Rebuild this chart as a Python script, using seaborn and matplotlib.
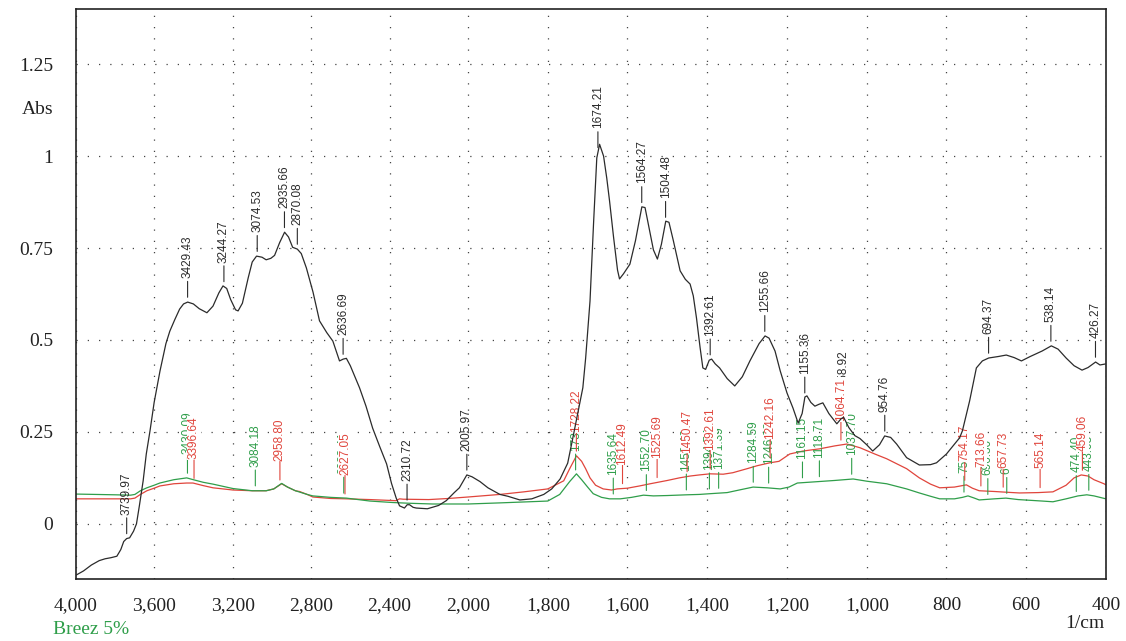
import numpy as np
import pandas as pd
import seaborn as sns
import matplotlib.pyplot as plt

# ---- spectra (wavenumber 1/cm, absorbance) ----
black_wn = [4000, 3960, 3920, 3880, 3850, 3820, 3790, 3770, 3755, 3740, 3725, 3705,
            3690, 3675, 3656, 3640, 3621, 3600, 3570, 3540, 3520, 3495, 3470, 3450,
            3429, 3400, 3370, 3331, 3300, 3270, 3249, 3230, 3210, 3185, 3172, 3150,
            3120, 3100, 3078, 3050, 3029, 3005, 2986, 2960, 2935, 2915, 2894, 2870,
            2850, 2824, 2790, 2757, 2720, 2689, 2655, 2636, 2620, 2600, 2553, 2520,
            2486, 2450, 2415, 2390, 2366, 2349, 2324, 2310, 2298, 2280, 2264, 2207,
            2150, 2111, 2070, 2044, 2020, 2006, 1990, 1970, 1950, 1920, 1900, 1870,
            1840, 1810, 1790, 1769, 1750, 1737, 1725, 1712, 1705, 1694, 1685, 1677,
            1670, 1660, 1652, 1645, 1635, 1625, 1620, 1610, 1594, 1580, 1564, 1556,
            1545, 1535, 1525, 1515, 1504, 1496, 1485, 1468, 1455, 1443, 1435, 1427,
            1418, 1411, 1404, 1395, 1389, 1380, 1369, 1350, 1331, 1312, 1293, 1270,
            1255, 1245, 1230, 1217, 1200, 1185, 1172, 1162, 1155, 1150, 1140, 1130,
            1120, 1110, 1095, 1075, 1065, 1058, 1045, 1030, 1017, 1000, 985, 968,
            955, 940, 925, 900, 868, 840, 825, 800, 767, 760, 742, 725, 710, 694,
            670, 650, 630, 612, 590, 560, 537, 520, 500, 480, 460, 445, 426, 415, 400]
black_abs = [-0.140, -0.128, -0.112, -0.100, -0.095, -0.092, -0.088, -0.070, -0.048, -0.040, -0.038, -0.020,
             0.000, 0.050, 0.117, 0.190, 0.253, 0.330, 0.416, 0.490, 0.524, 0.555, 0.584, 0.598,
             0.603, 0.598, 0.585, 0.574, 0.592, 0.628, 0.647, 0.640, 0.610, 0.582, 0.579, 0.600,
             0.670, 0.712, 0.728, 0.725, 0.718, 0.722, 0.730, 0.765, 0.793, 0.780, 0.752, 0.747,
             0.735, 0.696, 0.630, 0.552, 0.520, 0.497, 0.443, 0.448, 0.450, 0.430, 0.370, 0.320,
             0.260, 0.210, 0.163, 0.110, 0.070, 0.049, 0.043, 0.052, 0.052, 0.045, 0.043, 0.041,
             0.050, 0.063, 0.085, 0.098, 0.120, 0.133, 0.128, 0.115, 0.098, 0.080, 0.075, 0.065,
             0.068, 0.080, 0.095, 0.122, 0.165, 0.234, 0.300, 0.370, 0.450, 0.606, 0.820, 0.995,
             1.032, 1.000, 0.940, 0.878, 0.780, 0.690, 0.666, 0.680, 0.706, 0.770, 0.862, 0.860,
             0.800, 0.745, 0.720, 0.760, 0.823, 0.820, 0.770, 0.688, 0.665, 0.652, 0.620, 0.560,
             0.480, 0.424, 0.420, 0.445, 0.448, 0.435, 0.424, 0.395, 0.375, 0.400, 0.443, 0.490,
             0.511, 0.505, 0.470, 0.416, 0.356, 0.315, 0.274, 0.300, 0.345, 0.348, 0.330, 0.320,
             0.325, 0.329, 0.300, 0.272, 0.285, 0.290, 0.262, 0.240, 0.232, 0.215, 0.198, 0.215,
             0.239, 0.235, 0.217, 0.180, 0.160, 0.161, 0.166, 0.190, 0.234, 0.253, 0.334, 0.424, 0.443, 0.451,
             0.455, 0.459, 0.452, 0.443, 0.455, 0.470, 0.484, 0.475, 0.451, 0.430, 0.418, 0.425, 0.440, 0.432, 0.435]

red_wn = [4000, 3800, 3720, 3698, 3670, 3637, 3600, 3571, 3500, 3434, 3402, 3350,
          3300, 3198, 3100, 3029, 2990, 2950, 2920, 2880, 2859, 2820, 2791, 2700,
          2620, 2500, 2367, 2349, 2330, 2200, 2100, 2000, 1920, 1860, 1800, 1760,
          1745, 1728, 1715, 1705, 1694, 1680, 1661, 1640, 1626, 1600, 1570, 1543,
          1500, 1470, 1443, 1420, 1393, 1360, 1336, 1300, 1275, 1243, 1220, 1193,
          1160, 1118, 1080, 1050, 1017, 980, 950, 900, 868, 840, 817, 780,
          750, 735, 718, 680, 650, 617, 570, 533, 500, 480, 462, 445, 430, 405, 400]
red_abs = [0.068, 0.068, 0.068, 0.070, 0.080, 0.090, 0.097, 0.103, 0.109, 0.111, 0.111, 0.104,
           0.098, 0.092, 0.090, 0.090, 0.095, 0.109, 0.100, 0.090, 0.088, 0.080, 0.073, 0.069,
           0.068, 0.066, 0.063, 0.068, 0.067, 0.066, 0.069, 0.073, 0.080, 0.087, 0.095, 0.117,
           0.150, 0.185, 0.170, 0.150, 0.125, 0.105, 0.095, 0.092, 0.095, 0.097, 0.103, 0.109,
           0.118, 0.125, 0.130, 0.133, 0.136, 0.135, 0.139, 0.150, 0.158, 0.166, 0.170, 0.190,
           0.198, 0.204, 0.212, 0.217, 0.207, 0.190, 0.177, 0.150, 0.125, 0.108, 0.098, 0.100,
           0.106, 0.097, 0.090, 0.088, 0.086, 0.084, 0.085, 0.087, 0.105, 0.125, 0.133, 0.130, 0.120, 0.109, 0.106]

green_wn = [4000, 3800, 3720, 3698, 3670, 3637, 3600, 3571, 3500, 3434, 3400, 3350,
            3300, 3198, 3100, 3029, 2990, 2950, 2920, 2880, 2820, 2791, 2700, 2620,
            2500, 2384, 2300, 2180, 2000, 1920, 1800, 1770, 1745, 1728, 1715, 1700,
            1686, 1665, 1645, 1618, 1590, 1560, 1535, 1500, 1451, 1420, 1393, 1350,
            1320, 1285, 1250, 1217, 1195, 1174, 1120, 1080, 1034, 1000, 950, 900,
            868, 840, 817, 780, 760, 746, 730, 718, 680, 651, 620, 560,
            533, 500, 470, 448, 430, 400]
green_abs = [0.081, 0.079, 0.078, 0.080, 0.090, 0.098, 0.105, 0.111, 0.120, 0.125, 0.120, 0.113,
             0.108, 0.096, 0.090, 0.090, 0.095, 0.110, 0.100, 0.090, 0.080, 0.076, 0.072, 0.070,
             0.062, 0.058, 0.056, 0.054, 0.054, 0.057, 0.062, 0.080, 0.115, 0.136, 0.120, 0.100,
             0.082, 0.072, 0.068, 0.068, 0.072, 0.078, 0.076, 0.077, 0.079, 0.080, 0.082, 0.085,
             0.092, 0.100, 0.098, 0.095, 0.100, 0.111, 0.115, 0.118, 0.122, 0.116, 0.109, 0.095,
             0.084, 0.075, 0.068, 0.068, 0.072, 0.076, 0.070, 0.065, 0.068, 0.070, 0.066, 0.062,
             0.060, 0.068, 0.076, 0.079, 0.076, 0.068]

# peak picks written on the chart
black_peaks = [3739.97, 3429.43, 3244.27, 3074.53, 2935.66, 2870.08, 2636.69, 2310.72,
               2005.97, 1674.21, 1564.27, 1504.48, 1392.61, 1255.66, 1155.36, 1058.92,
               954.76, 694.37, 538.14, 426.27]
red_peaks = [3396.64, 2958.80, 2627.05, 1728.22, 1612.49, 1525.69, 1450.47, 1392.61,
             1242.16, 1064.71, 754.17, 713.66, 657.73, 565.14, 459.06]
green_peaks = [3430.09, 3084.18, 2633.41, 1730.15, 1635.64, 1552.70, 1452.40, 1394.54,
               1371.39, 1284.59, 1246.02, 1161.15, 1118.71, 1037.70, 756.10, 696.30,
               648.80, 474.40, 443.03]

x_major = [4000, 3600, 3200, 2800, 2400, 2000, 1800, 1600, 1400, 1200, 1000, 800, 600, 400]
y_major = [0, 0.25, 0.5, 0.75, 1, 1.25]
y_labels = ["0", "0.25", "0.5", "0.75", "1", "1.25"]

BLACK = "#2b2b2b"
RED = "#e0453c"
GREEN = "#2f9e4a"


def fwd(x):
    # the instrument squeezes the range above 2000 1/cm to half scale
    x = np.asarray(x, dtype=float)
    return np.where(x > 2000, 2000 + (x - 2000) * 0.492, x)


def inv(u):
    u = np.asarray(u, dtype=float)
    return np.where(u > 2000, 2000 + (u - 2000) / 0.492, u)


def label_peaks(ax, wn, ab, peaks, color, z, box=False):
    order = np.argsort(wn)
    xs = np.array(wn)[order]
    ys = np.array(ab)[order]
    for p in peaks:
        yc = np.interp(p, xs, ys)
        kw = {}
        if box:
            kw["bbox"] = dict(boxstyle="square,pad=0.05", fc="white", ec="none")
        ax.annotate(f"{p:.2f}", xy=(p, yc), xytext=(0, 24), textcoords="offset pixels",
                    rotation=90, ha="center", va="bottom", fontsize=8.5,
                    family="Liberation Sans", color=color, zorder=z,
                    arrowprops=dict(arrowstyle="-", color=color, lw=0.8,
                                    shrinkA=0, shrinkB=3.5, relpos=(0.5, 0)),
                    **kw)


sns.set_style("white")
plt.rcParams["font.family"] = ["Liberation Serif", "DejaVu Serif"]

fig = plt.figure(figsize=(11.26, 6.41), dpi=100)
ax = fig.add_axes([0.0672, 0.0967, 0.915, 0.8893])

# black sample drawn last so the boxed red picks never hide it
curves = [(red_wn, red_abs, RED, 2), (green_wn, green_abs, GREEN, 2), (black_wn, black_abs, BLACK, 6)]
for wn, ab, col, z in curves:
    df = pd.DataFrame({"wn": wn, "abs": ab})
    sns.lineplot(data=df, x="wn", y="abs", color=col, lw=0.9, sort=False, ax=ax, zorder=z)

ax.set_xscale("function", functions=(fwd, inv))
ax.set_xlim(4000, 400)
ax.set_ylim(-0.15, 1.40)

ax.set_xticks(x_major)
ax.set_xticklabels([f"{v:,}" for v in x_major])
x_minor = [v for v in np.arange(4000, 2000, -80)] + [v for v in np.arange(2000, 399, -40)]
ax.set_xticks(x_minor, minor=True)
ax.set_yticks(y_major)
ax.set_yticklabels(y_labels)
ax.set_yticks(np.arange(-0.15, 1.40, 0.05), minor=True)

ax.tick_params(axis="both", which="both", direction="out", colors="#222222",
               labelsize=14, width=0.9)
ax.tick_params(axis="y", which="major", length=7.5, pad=8.5)
ax.tick_params(axis="y", which="minor", length=6.5)
ax.tick_params(axis="x", which="both", length=6, pad=7)

for s in ax.spines.values():
    s.set_color("#222222")
    s.set_linewidth(1.2)

ax.grid(True, which="major", linestyle=(0, (1, 8)), color="#444444", lw=0.9)
ax.set_xlabel("")
ax.set_ylabel("")

label_peaks(ax, black_wn, black_abs, black_peaks, BLACK, 3)
label_peaks(ax, green_wn, green_abs, green_peaks, GREEN, 4)
label_peaks(ax, red_wn, red_abs, red_peaks, RED, 5, box=True)

fig.text(53 / 1126, 1 - 110 / 641, "Abs", ha="right", va="center", fontsize=14, color="#222222")
fig.text(1104 / 1126, 1 - 623 / 641, "1/cm", ha="right", va="center", fontsize=14, color="#222222")
fig.text(53 / 1126, 1 - 629 / 641, "Breez 5%", ha="left", va="center", fontsize=14, color=GREEN)

fig.savefig("out.png", dpi=100)
